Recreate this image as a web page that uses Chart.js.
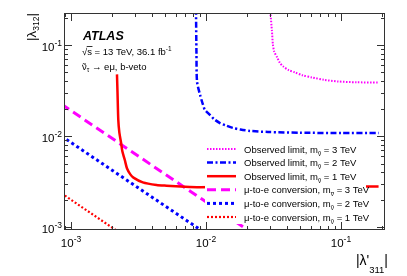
<!DOCTYPE html>
<html>
<head>
<meta charset="utf-8">
<script src="https://cdn.jsdelivr.net/npm/chart.js@4.4.1/dist/chart.umd.min.js"></script>
<style>
  html, body { margin: 0; padding: 0; background: #fff; }
  canvas { display: block; }
</style>
</head>
<body>
<canvas id="c" width="407" height="276"></canvas>
<script>
// axis ranges (log)
const xMin = 0.000887, xMax = 0.212;
const yMin = 0.00093, yMax = 0.225;

// Observed limit, m = 3 TeV
const obs3X = [0.0297, 0.0300, 0.0308, 0.0313, 0.0320, 0.0336, 0.0352, 0.0372, 0.041, 0.0456, 0.052, 0.061, 0.075, 0.095, 0.13, 0.19];
const obs3Y = [0.25, 0.225, 0.143, 0.1025, 0.085, 0.0736, 0.064, 0.0585, 0.053, 0.0501, 0.0465, 0.0441, 0.0415, 0.0398, 0.039, 0.0388];

// Observed limit, m = 2 TeV
const obs2X = [0.00843, 0.0085, 0.00858, 0.00903, 0.0095, 0.0098, 0.0107, 0.0115, 0.0127, 0.0142, 0.0158, 0.018, 0.0212, 0.0288, 0.05, 0.1, 0.19];
const obs2Y = [0.25, 0.08, 0.0398, 0.0285, 0.0221, 0.0195, 0.0171, 0.0153, 0.0139, 0.013, 0.0123, 0.0118, 0.0114, 0.0111, 0.0109, 0.0108, 0.0108];

// Observed limit, m = 1 TeV
const obs1X = [0.00219, 0.00221, 0.00224, 0.00228, 0.00235, 0.0024, 0.0025, 0.0026, 0.00275, 0.0029, 0.0034, 0.0043, 0.0051, 0.007, 0.009, 0.03, 0.19];
const obs1Y = [0.0476, 0.03, 0.015, 0.011, 0.0084, 0.0068, 0.0055, 0.0044, 0.0038, 0.0035, 0.0031, 0.0029, 0.00285, 0.00278, 0.00275, 0.0028, 0.0028];

// mu-to-e conversion lines
const mue3X = [0.00085, 0.022];
const mue3Y = [0.0224, 0.00086];
const mue2X = [0.00085, 0.01];
const mue2Y = [0.01, 0.00085];
const mue1X = [0.00085, 0.0024];
const mue1Y = [0.00235, 0.00083];

const legendText = [
  ['Observed limit, m', ' = 3 TeV'],
  ['Observed limit, m', ' = 2 TeV'],
  ['Observed limit, m', ' = 1 TeV'],
  ['\u03bc-to-e conversion, m', ' = 3 TeV'],
  ['\u03bc-to-e conversion, m', ' = 2 TeV'],
  ['\u03bc-to-e conversion, m', ' = 1 TeV']
];

const fam = '"Liberation Sans", Arial, Helvetica, sans-serif';

function pts(xs, ys) {
  return xs.map((x, i) => ({ x, y: ys[i] }));
}

function series(xs, ys, color, width, dash, tension) {
  return {
    data: pts(xs, ys),
    showLine: true,
    borderColor: color,
    borderWidth: width,
    borderDash: dash,
    borderCapStyle: 'butt',
    tension: tension,
    pointRadius: 0,
    fill: false
  };
}

// draws a run of text pieces: [text, size, dy, weight, tilde]
function rich(ctx, x, y, parts, align) {
  let w = 0;
  parts.forEach(p => {
    ctx.font = (p[3] || '') + ' ' + p[1] + 'px ' + fam;
    w += ctx.measureText(p[0]).width;
  });
  if (align === 'right') x -= w;
  else if (align === 'center') x -= w / 2;
  parts.forEach(p => {
    ctx.font = (p[3] || '') + ' ' + p[1] + 'px ' + fam;
    const cw = ctx.measureText(p[0]).width;
    ctx.fillText(p[0], x, y + (p[2] || 0));
    if (p[4]) {
      // tilde over the glyph
      ctx.textAlign = 'center';
      ctx.fillText('\u02dc', x + cw / 2, y + (p[2] || 0) + p[1] * 0.05);
      ctx.textAlign = 'left';
    }
    x += cw;
  });
  return w;
}

const decor = {
  id: 'decor',
  afterDatasetsDraw(chart) {
    const ctx = chart.ctx;
    const a = chart.chartArea;
    const sx = chart.scales.x, sy = chart.scales.y;
    ctx.save();
    ctx.textAlign = 'left';

    // legend
    ctx.fillStyle = '#fff';
    ctx.fillRect(205, 142, 161, 82);
    const ds = chart.data.datasets;
    legendText.forEach((t, i) => {
      const y = 149 + i * 13.6;
      const d = ds[i];
      ctx.beginPath();
      ctx.strokeStyle = d.borderColor;
      ctx.lineWidth = d.borderWidth;
      ctx.setLineDash(d.borderDash || []);
      ctx.lineCap = 'butt';
      ctx.moveTo(207, y);
      ctx.lineTo(236, y);
      ctx.stroke();
      ctx.setLineDash([]);
      ctx.fillStyle = '#000';
      rich(ctx, 244, y + 3.5, [[t[0], 9.5], ['\u03bd', 6.5, 3, '', true], [t[1], 9.5]]);
    });

    // frame
    ctx.strokeStyle = '#333';
    ctx.lineWidth = 1;
    ctx.strokeRect(a.left + 0.5, a.top + 0.5, a.right - a.left - 1, a.bottom - a.top - 1);

    // ticks
    ctx.beginPath();
    for (let e = -4; e <= 0; e++) {
      for (let m = 1; m <= 9; m++) {
        const v = m * Math.pow(10, e);
        const len = m === 1 ? 8 : 4;
        if (v >= xMin && v <= xMax) {
          const px = Math.round(sx.getPixelForValue(v)) + 0.5;
          ctx.moveTo(px, a.bottom); ctx.lineTo(px, a.bottom - len);
          ctx.moveTo(px, a.top); ctx.lineTo(px, a.top + len);
        }
        if (v >= yMin && v <= yMax) {
          const py = Math.round(sy.getPixelForValue(v)) + 0.5;
          ctx.moveTo(a.left, py); ctx.lineTo(a.left + len, py);
          ctx.moveTo(a.right, py); ctx.lineTo(a.right - len, py);
        }
      }
    }
    ctx.stroke();

    // tick labels
    ctx.fillStyle = '#000';
    [-3, -2, -1].forEach(e => {
      const v = Math.pow(10, e);
      const px = sx.getPixelForValue(v);
      rich(ctx, px, 247, [['10', 11.5], [String(e), 8.5, -5]], 'center');
      const py = sy.getPixelForValue(v);
      rich(ctx, 62, py + 6, [['10', 11.5], [String(e), 8.5, -5]], 'right');
    });

    // x title
    rich(ctx, 388, 265, [['|\u03bb\'', 14], ['311', 9.5, 8], ['|', 14]], 'right');

    // y title (rotated)
    ctx.save();
    ctx.translate(36, 13);
    ctx.rotate(-Math.PI / 2);
    rich(ctx, 0, 0, [['|\u03bb', 13.5], ['312', 8.5, 3], ['|', 13.5]], 'right');
    ctx.restore();

    // labels
    rich(ctx, 83, 40, [['ATLAS', 12.5, 0, 'italic bold']]);
    rich(ctx, 82, 55, [['\u221a', 9.5], ['s', 9.5], [' = 13 TeV, 36.1 fb', 9.5], ['-1', 6.5, -4]]);
    ctx.font = '9.5px ' + fam;
    const rw = ctx.measureText('\u221a').width;
    const sw = ctx.measureText('s').width;
    ctx.fillRect(82 + rw - 0.5, 46, sw + 1, 0.8);
    rich(ctx, 82, 70, [['\u03bd', 9.5, 0, '', true], ['\u03c4', 6.5, 2], [' \u2192 e\u03bc, b-veto', 9.5]]);

    ctx.restore();
  }
};

new Chart(document.getElementById('c'), {
  type: 'scatter',
  data: {
    datasets: [
      series(obs3X, obs3Y, '#ff00ff', 2, [1.5, 1.5], 0.25),
      series(obs2X, obs2Y, '#0000ff', 2.5, [6, 2.5, 2, 2.5], 0.25),
      series(obs1X, obs1Y, '#ff0000', 2.5, [], 0.25),
      series(mue3X, mue3Y, '#ff00ff', 3, [9, 5], 0),
      series(mue2X, mue2Y, '#0000ff', 3, [3, 3], 0),
      series(mue1X, mue1Y, '#ff0000', 2.2, [2, 2], 0)
    ]
  },
  options: {
    responsive: false,
    animation: false,
    devicePixelRatio: 1,
    layout: { padding: { top: 13, right: 22, left: 0, bottom: 0 } },
    plugins: { legend: { display: false }, tooltip: { enabled: false } },
    scales: {
      x: {
        type: 'logarithmic', min: xMin, max: xMax,
        grid: { display: false }, border: { display: false },
        ticks: { display: false },
        afterFit: s => { s.height = 46; }
      },
      y: {
        type: 'logarithmic', min: yMin, max: yMax,
        grid: { display: false }, border: { display: false },
        ticks: { display: false },
        afterFit: s => { s.width = 64; }
      }
    }
  },
  plugins: [decor]
});
</script>
</body>
</html>
